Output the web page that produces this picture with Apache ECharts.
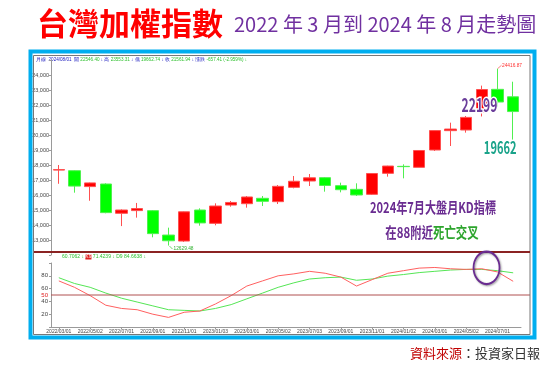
<!DOCTYPE html>
<html><head><meta charset="utf-8">
<script src="https://cdn.jsdelivr.net/npm/echarts@6/dist/echarts.min.js"></script>
<style>html,body{margin:0;padding:0;background:#fff;}#c{width:555px;height:366px;}</style>
</head><body><div id="c"></div>
<script>
// ---- data ----
const dates = ['2022/03/01','2022/04/01','2022/05/02','2022/06/01','2022/07/01','2022/08/01','2022/09/01','2022/10/03','2022/11/01','2022/12/01',
  '2023/01/03','2023/02/01','2023/03/01','2023/04/06','2023/05/02','2023/06/01','2023/07/03','2023/08/01','2023/09/01','2023/10/02',
  '2023/11/01','2023/12/01','2024/01/02','2024/02/01','2024/03/01','2024/04/01','2024/05/02','2024/06/03','2024/07/01','2024/08/01'];
const opens  = [17660,17620,16560,16733,14780,14960,14956,13330,12930,15000,14110,15330,15420,15780,15556,16511,16933,17156,16622,16378,16044,17444,17910,17844,19000,20290,20333,21536,23044,22546];
const closes = [17693,16592,16807,14825,15000,15095,13425,12950,14880,14138,15265,15504,15868,15579,16579,16916,17146,16635,16354,16001,17434,17931,17890,18967,20294,20397,21174,23033,22199,21562];
const lows   = [16747,16156,15616,14781,13928,14490,13180,12629,12870,13956,13980,15220,15156,15267,15400,16444,16600,16222,16178,15933,16000,17222,17111,17844,18933,19267,20156,21236,21900,19663];
const highs  = [18001,17650,16830,16780,15040,15470,15000,13822,14900,15111,15444,15600,15933,15933,16667,17267,17400,17200,16822,16778,17450,17950,18044,18990,20300,20822,21267,23292,24417,23553];
const kValues = [72,62,49,34,29,27,20,15,23,25,36,49,64,72,80,83,87,84,78,64,74,84,88,92,93,91,90,91,86,71.42];
const dValues = [77,68,62,53,45,39,33,27,26,25,29,35,44,53,62,69,75,77,78,73,75,79.5,82,85,87,89,90,90,88,84.66];
const priceTicks = [13000,14000,15000,16000,17000,18000,19000,20000,21000,22000,23000,24000];
const kdTicks = [20,40,60,80];
const lowAnnot = '12629.48', highAnnot = '24416.87';
const closeLabel = '22199', lowLabel = '19662';

const candleData = dates.map((d,i)=>[opens[i],closes[i],lows[i],highs[i]]);
const tinyFont = "'Liberation Sans Narrow','Liberation Sans',sans-serif";
const cjk = "'Noto Sans CJK TC','Noto Sans CJK SC',sans-serif";

const chart = echarts.init(document.getElementById('c'), null, {renderer:'canvas'});
chart.setOption({
  animation:false,
  backgroundColor:'#fff',
  grid:[
    {left:51, width:470, top:60, height:195},
    {left:51, width:470, top:263, height:64}
  ],
  xAxis:[
    {type:'category', gridIndex:0, data:dates, boundaryGap:true,
     axisLine:{show:false}, axisTick:{show:false}, axisLabel:{show:false}, splitLine:{show:false}},
    {type:'category', gridIndex:1, data:dates, boundaryGap:true,
     axisLine:{show:true, lineStyle:{color:'#9a9a9a', width:1}},
     axisTick:{show:true, interval:1, length:2, alignWithLabel:true, lineStyle:{color:'#9a9a9a'}},
     axisLabel:{show:true, interval:1, fontSize:5, color:'#444', margin:2, fontFamily:tinyFont},
     splitLine:{show:false}}
  ],
  yAxis:[
    {type:'value', gridIndex:0, min:12000, max:25000, interval:1000,
     axisLine:{show:true, lineStyle:{color:'#9a9a9a'}},
     axisTick:{show:true, length:2, lineStyle:{color:'#9a9a9a'}},
     axisLabel:{fontSize:5.5, color:'#444', margin:2, fontFamily:tinyFont,
       formatter:v=> priceTicks.indexOf(v)>=0 ? v.toLocaleString('en-US') : ''},
     splitLine:{show:false}},
    {type:'value', gridIndex:1, min:0, max:100, interval:20,
     axisLine:{show:true, lineStyle:{color:'#9a9a9a'}},
     axisTick:{show:true, length:2, lineStyle:{color:'#9a9a9a'}},
     axisLabel:{fontSize:6, color:'#444', margin:3, fontFamily:tinyFont,
       formatter:v=> kdTicks.indexOf(v)>=0 ? String(v) : ''},
     splitLine:{show:false}}
  ],
  series:[
    {type:'candlestick', xAxisIndex:0, yAxisIndex:0, data:candleData, barWidth:12,
     itemStyle:{color:'#ff0000', color0:'#00ff00', borderColor:'#ff5050', borderColor0:'#50f050', borderWidth:1}},
    {type:'line', name:'D', xAxisIndex:1, yAxisIndex:1, data:dValues, symbol:'none',
     lineStyle:{color:'#55e655', width:1}},
    {type:'line', name:'K', xAxisIndex:1, yAxisIndex:1, data:kValues, symbol:'none',
     lineStyle:{color:'#ff6060', width:1}}
  ]
});

function px(grid, cat, v){ return chart.convertToPixel({gridIndex:grid}, [cat, v]); }
const halo = {stroke:'#fff', lineWidth:3, shadowColor:'rgba(0,0,0,0.45)', shadowBlur:3, shadowOffsetX:1, shadowOffsetY:1};

const pLow = px(0, dates[7], lows[7]);
const pHigh = px(0, dates[28], highs[28]);
const pClose = px(0, dates[28], closes[28]);
const pLow8 = px(0, dates[29], lows[29]);
const y50 = chart.convertToPixel({gridIndex:1}, [dates[0], 50])[1];
const e27 = px(1, dates[27], 91), e28 = px(1, dates[28], 91);

const graphics = [
  // frame
  {type:'rect', shape:{x:30.5, y:51.5, width:504, height:286}, style:{fill:null, stroke:'#00aeef', lineWidth:4}, z:100},
  {type:'rect', shape:{x:33.5, y:55.5, width:496.5, height:279}, style:{fill:null, stroke:'#777', lineWidth:1}, z:100},
  // separator
  {type:'line', shape:{x1:34, y1:252, x2:530, y2:252}, style:{stroke:'#8b2323', lineWidth:2}, z:100},
  // 50 line and label
  {type:'line', shape:{x1:51, y1:y50, x2:530, y2:y50}, style:{stroke:'#b05050', lineWidth:1}, z:50},
  {type:'text', x:48, y:y50, style:{text:'50', fontSize:6, fill:'#e02020', align:'right', verticalAlign:'middle', fontFamily:tinyFont}},
  // titles
  {type:'text', x:37, y:23, style:{text:'台灣加權指數', fontSize:31, fontWeight:'bold', fill:'#ff0000', fontFamily:cjk,
     verticalAlign:'middle', shadowColor:'rgba(60,60,60,0.8)', shadowBlur:1, shadowOffsetX:1.5, shadowOffsetY:1.5}},
  {type:'text', x:234, y:24, style:{text:'2022 年 3 月到 2024 年 8 月走勢圖', fontSize:20, fill:'#7030a0', fontFamily:cjk, verticalAlign:'middle'}},
  // header lines
  {type:'text', x:36, y:60, style:{text:'{b|月線}  {b|2024/08/01}  {b|開} {g|22546.40} {b|↓ 高} {g|23553.31} {b|↓ 低} {g|19662.74} {b|↓ 收} {g|21561.94} {b|↓ 漲跌} {g|-657.41 (-2.959%) ↓}',
     verticalAlign:'middle', fontSize:4.6, fontFamily:tinyFont,
     rich:{b:{fill:'#2020c0', fontSize:4.6, fontFamily:tinyFont}, g:{fill:'#30c030', fontSize:4.6, fontFamily:tinyFont}}}},
  {type:'text', x:62, y:257, style:{text:'{g|60.7062 ↓} {r|K9} {g|71.4239 ↓ D9 84.6638 ↓}', verticalAlign:'middle', fontSize:5, fontFamily:tinyFont,
     rich:{g:{fill:'#30c030', fontSize:5, fontFamily:tinyFont}, r:{fill:'#fff', backgroundColor:'#e02020', fontSize:5, fontFamily:tinyFont}}}},
  // low / high annotations
  {type:'line', shape:{x1:pLow[0]+1, y1:pLow[1]+0.5, x2:pLow[0]+4, y2:pLow[1]+3.5}, style:{stroke:'#40d040', lineWidth:0.8}},
  {type:'text', x:pLow[0]+5, y:pLow[1]+3.5, style:{text:lowAnnot, fontSize:4.8, fill:'#30b030', verticalAlign:'middle', fontFamily:tinyFont}},
  {type:'line', shape:{x1:pHigh[0], y1:pHigh[1], x2:pHigh[0]+4, y2:pHigh[1]-3.5}, style:{stroke:'#ff6060', lineWidth:0.8}},
  {type:'text', x:pHigh[0]+4.5, y:pHigh[1]-3.5, style:{text:highAnnot, fontSize:4.8, fill:'#ff3030', verticalAlign:'middle', fontFamily:tinyFont}},
  // value labels
  {type:'text', x:pClose[0]-18, y:pClose[1]+3, scaleX:0.64, z:120,
   style:Object.assign({text:closeLabel, fontSize:19, fontWeight:'bold', fill:'#6a3d9a', align:'center', verticalAlign:'middle', fontFamily:cjk}, halo)},
  {type:'text', x:pLow8[0]-13, y:pLow8[1]+7, scaleX:0.65, z:120,
   style:Object.assign({text:lowLabel, fontSize:17, fontWeight:'bold', fill:'#1aa38a', align:'center', verticalAlign:'middle', fontFamily:cjk}, halo)},
  // KD remarks
  {type:'text', x:433, y:207, scaleX:0.74, z:120,
   style:Object.assign({text:'2024年7月大盤月KD指標', fontSize:15, fontWeight:'bold', fill:'#6a2c91', align:'center', verticalAlign:'middle', fontFamily:cjk}, halo)},
  {type:'text', x:432, y:232, scaleX:0.76, z:120,
   style:Object.assign({text:'{p|在88附近}{g|死亡交叉}', align:'center', verticalAlign:'middle', fontSize:15, fontWeight:'bold', fontFamily:cjk,
     rich:{p:{fill:'#6a2c91', fontSize:15, fontWeight:'bold', fontFamily:cjk}, g:{fill:'#2ea52e', fontSize:15, fontWeight:'bold', fontFamily:cjk}}}, halo)},
  // ellipse
  {type:'circle', x:e27[0]+(e28[0]-e27[0])*0.3, y:e27[1]-1, scaleY:1.25, z:120,
   shape:{cx:0, cy:0, r:13}, style:{fill:null, stroke:'#6a2c91', lineWidth:1.8, shadowColor:'rgba(0,0,0,0.4)', shadowBlur:2, shadowOffsetX:1, shadowOffsetY:1}},
  // source
  {type:'text', x:410, y:353, style:{text:'{r|資料來源}{k|：投資家日報}', verticalAlign:'middle', fontSize:13, fontFamily:cjk,
     rich:{r:{fill:'#c00000', fontSize:13, fontFamily:cjk}, k:{fill:'#333', fontSize:13, fontFamily:cjk}}}}
];
chart.setOption({graphic:graphics});
</script>
</body></html>
